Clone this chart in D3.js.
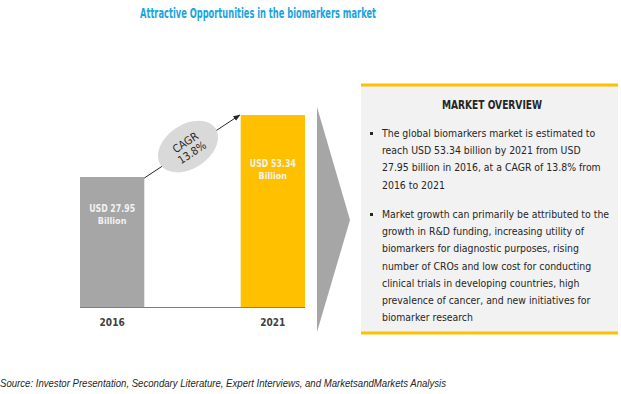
<!DOCTYPE html>
<html>
<head>
<meta charset="utf-8">
<script src="https://cdn.jsdelivr.net/npm/d3@7"></script>
<style>
  body { margin: 0; background: #fff; }
  svg text { font-family: "Liberation Sans Narrow", "DejaVu Sans Condensed", "Arial Narrow", sans-serif; }
</style>
</head>
<body>
<div id="chart"></div>
<script>
// data
const years = ["2016", "2021"];
const values = [27.95, 53.34];
const valueLabels = ["USD 27.95", "USD 53.34"];
const cagrLabel = ["CAGR", "13.8%"];
const title = "Attractive Opportunities in the biomarkers market";
const overviewTitle = "MARKET OVERVIEW";
const bullets = [
  ["The global biomarkers market is estimated to",
   "reach USD 53.34 billion by 2021 from USD",
   "27.95 billion in 2016, at a CAGR of 13.8% from",
   "2016 to 2021"],
  ["Market growth can primarily be attributed to the",
   "growth in R&D funding, increasing utility of",
   "biomarkers for diagnostic purposes, rising",
   "number of CROs and low cost for conducting",
   "clinical trials in developing countries, high",
   "prevalence of cancer, and new initiatives for",
   "biomarker research"]
];
const source = "Source: Investor Presentation, Secondary Literature, Expert Interviews, and MarketsandMarkets Analysis";

const W = 621, H = 394;
const barColors = ["#a6a6a6", "#ffc000"];

const svg = d3.select("#chart").append("svg")
    .attr("width", W)
    .attr("height", H);

// title
svg.append("text")
    .attr("x", 258)
    .attr("y", 18)
    .attr("text-anchor", "middle")
    .attr("fill", "#1ba3dd")
    .attr("font-size", 13.5)
    .attr("font-weight", "bold")
    .attr("textLength", 236)
    .attr("lengthAdjust", "spacingAndGlyphs")
    .text(title);

// scales (infographic is not drawn from zero)
const x = d3.scaleBand()
    .domain(years)
    .range([80, 305])
    .paddingInner(0.6)
    .paddingOuter(0);

const y = d3.scaleLinear()
    .domain([-25.3, 55])
    .range([307, 111]);

// bars
svg.selectAll(".bar")
    .data(years)
  .enter().append("rect")
    .attr("class", "bar")
    .attr("x", d => x(d))
    .attr("y", (d, i) => y(values[i]))
    .attr("width", x.bandwidth())
    .attr("height", (d, i) => y(y.domain()[0]) - y(values[i]))
    .attr("fill", (d, i) => barColors[i]);

// baseline
svg.append("line")
    .attr("x1", 80).attr("x2", 305)
    .attr("y1", 307.5).attr("y2", 307.5)
    .attr("stroke", "#7f7f7f")
    .attr("stroke-width", 1);

// year labels
svg.selectAll(".year")
    .data(years)
  .enter().append("text")
    .attr("class", "year")
    .attr("x", d => x(d) + x.bandwidth() / 2)
    .attr("y", 326)
    .attr("text-anchor", "middle")
    .attr("font-size", 10)
    .attr("font-weight", "bold")
    .attr("fill", "#404040")
    .text(d => d);

// value labels inside bars
const labelOffset = [35, 52];
years.forEach((yr, i) => {
    const cx = x(yr) + x.bandwidth() / 2;
    const ty = y(values[i]) + labelOffset[i];
    svg.append("text")
        .attr("x", cx).attr("y", ty)
        .attr("text-anchor", "middle")
        .attr("font-size", 10)
        .attr("font-weight", "bold")
        .attr("fill", "#f2f2f2")
        .attr("textLength", 46)
        .attr("lengthAdjust", "spacingAndGlyphs")
        .text(valueLabels[i]);
    svg.append("text")
        .attr("x", cx).attr("y", ty + 12)
        .attr("text-anchor", "middle")
        .attr("font-size", 9)
        .attr("font-weight", "bold")
        .attr("fill", "#f2f2f2")
        .text("Billion");
});

// CAGR arrow
svg.append("defs").append("marker")
    .attr("id", "arrow")
    .attr("viewBox", "0 0 10 10")
    .attr("refX", 9).attr("refY", 5)
    .attr("markerWidth", 7).attr("markerHeight", 7)
    .attr("orient", "auto")
  .append("path")
    .attr("d", "M0,1L10,5L0,9Z")
    .attr("fill", "#262626");

const x0 = x(years[0]) + x.bandwidth(), y0 = y(values[0]) + 1;
const x1 = x(years[1]) - 1, y1 = y(values[1]);
svg.append("line")
    .attr("x1", x0).attr("y1", y0)
    .attr("x2", x1).attr("y2", y1)
    .attr("stroke", "#262626")
    .attr("stroke-width", 1)
    .attr("marker-end", "url(#arrow)");

const angle = Math.atan2(y1 - y0, x1 - x0) * 180 / Math.PI;
const ell = svg.append("g")
    .attr("transform", `translate(${(x0 + x1) / 2 - 4},${(y0 + y1) / 2}) rotate(${angle})`);
ell.append("ellipse")
    .attr("rx", 33).attr("ry", 22)
    .attr("fill", "#d9d9d9");
ell.selectAll("text")
    .data(cagrLabel)
  .enter().append("text")
    .attr("x", 0)
    .attr("y", (d, i) => i * 12 - 1)
    .attr("text-anchor", "middle")
    .attr("font-size", 11)
    .attr("fill", "#262626")
    .text(d => d);

// big gray chevron
svg.append("path")
    .attr("d", "M317,107L350,220L317,332Z")
    .attr("fill", "#a6a6a6");

// overview box
const box = { x: 361, y: 85, w: 257, h: 248 };
svg.append("rect")
    .attr("x", box.x).attr("y", box.y)
    .attr("width", box.w).attr("height", box.h)
    .attr("fill", "#f2f2f2");
[box.y, box.y + box.h].forEach(yy => {
    svg.append("line")
        .attr("x1", box.x).attr("x2", box.x + box.w)
        .attr("y1", yy).attr("y2", yy)
        .attr("stroke", "#ffc000")
        .attr("stroke-width", 3);
});

svg.append("text")
    .attr("x", 492)
    .attr("y", 109)
    .attr("text-anchor", "middle")
    .attr("font-size", 12)
    .attr("font-weight", "bold")
    .attr("fill", "#262626")
    .attr("textLength", 100)
    .attr("lengthAdjust", "spacingAndGlyphs")
    .text(overviewTitle);

const lineH = 17.2;
const bulletTop = [137, 218];
bullets.forEach((lines, b) => {
    svg.append("rect")
        .attr("x", 370).attr("y", bulletTop[b] - 5)
        .attr("width", 3).attr("height", 3)
        .attr("fill", "#262626");
    lines.forEach((ln, i) => {
        svg.append("text")
            .attr("x", 382)
            .attr("y", bulletTop[b] + i * lineH)
            .attr("font-size", 10.4)
            .attr("fill", "#262626")
            .text(ln);
    });
});

// source
svg.append("text")
    .attr("x", 0)
    .attr("y", 387)
    .attr("font-size", 11)
    .attr("font-style", "italic")
    .attr("fill", "#262626")
    .attr("textLength", 446)
    .attr("lengthAdjust", "spacingAndGlyphs")
    .style("font-family", "'Liberation Sans', Arial, sans-serif")
    .text(source);
</script>
</body>
</html>
